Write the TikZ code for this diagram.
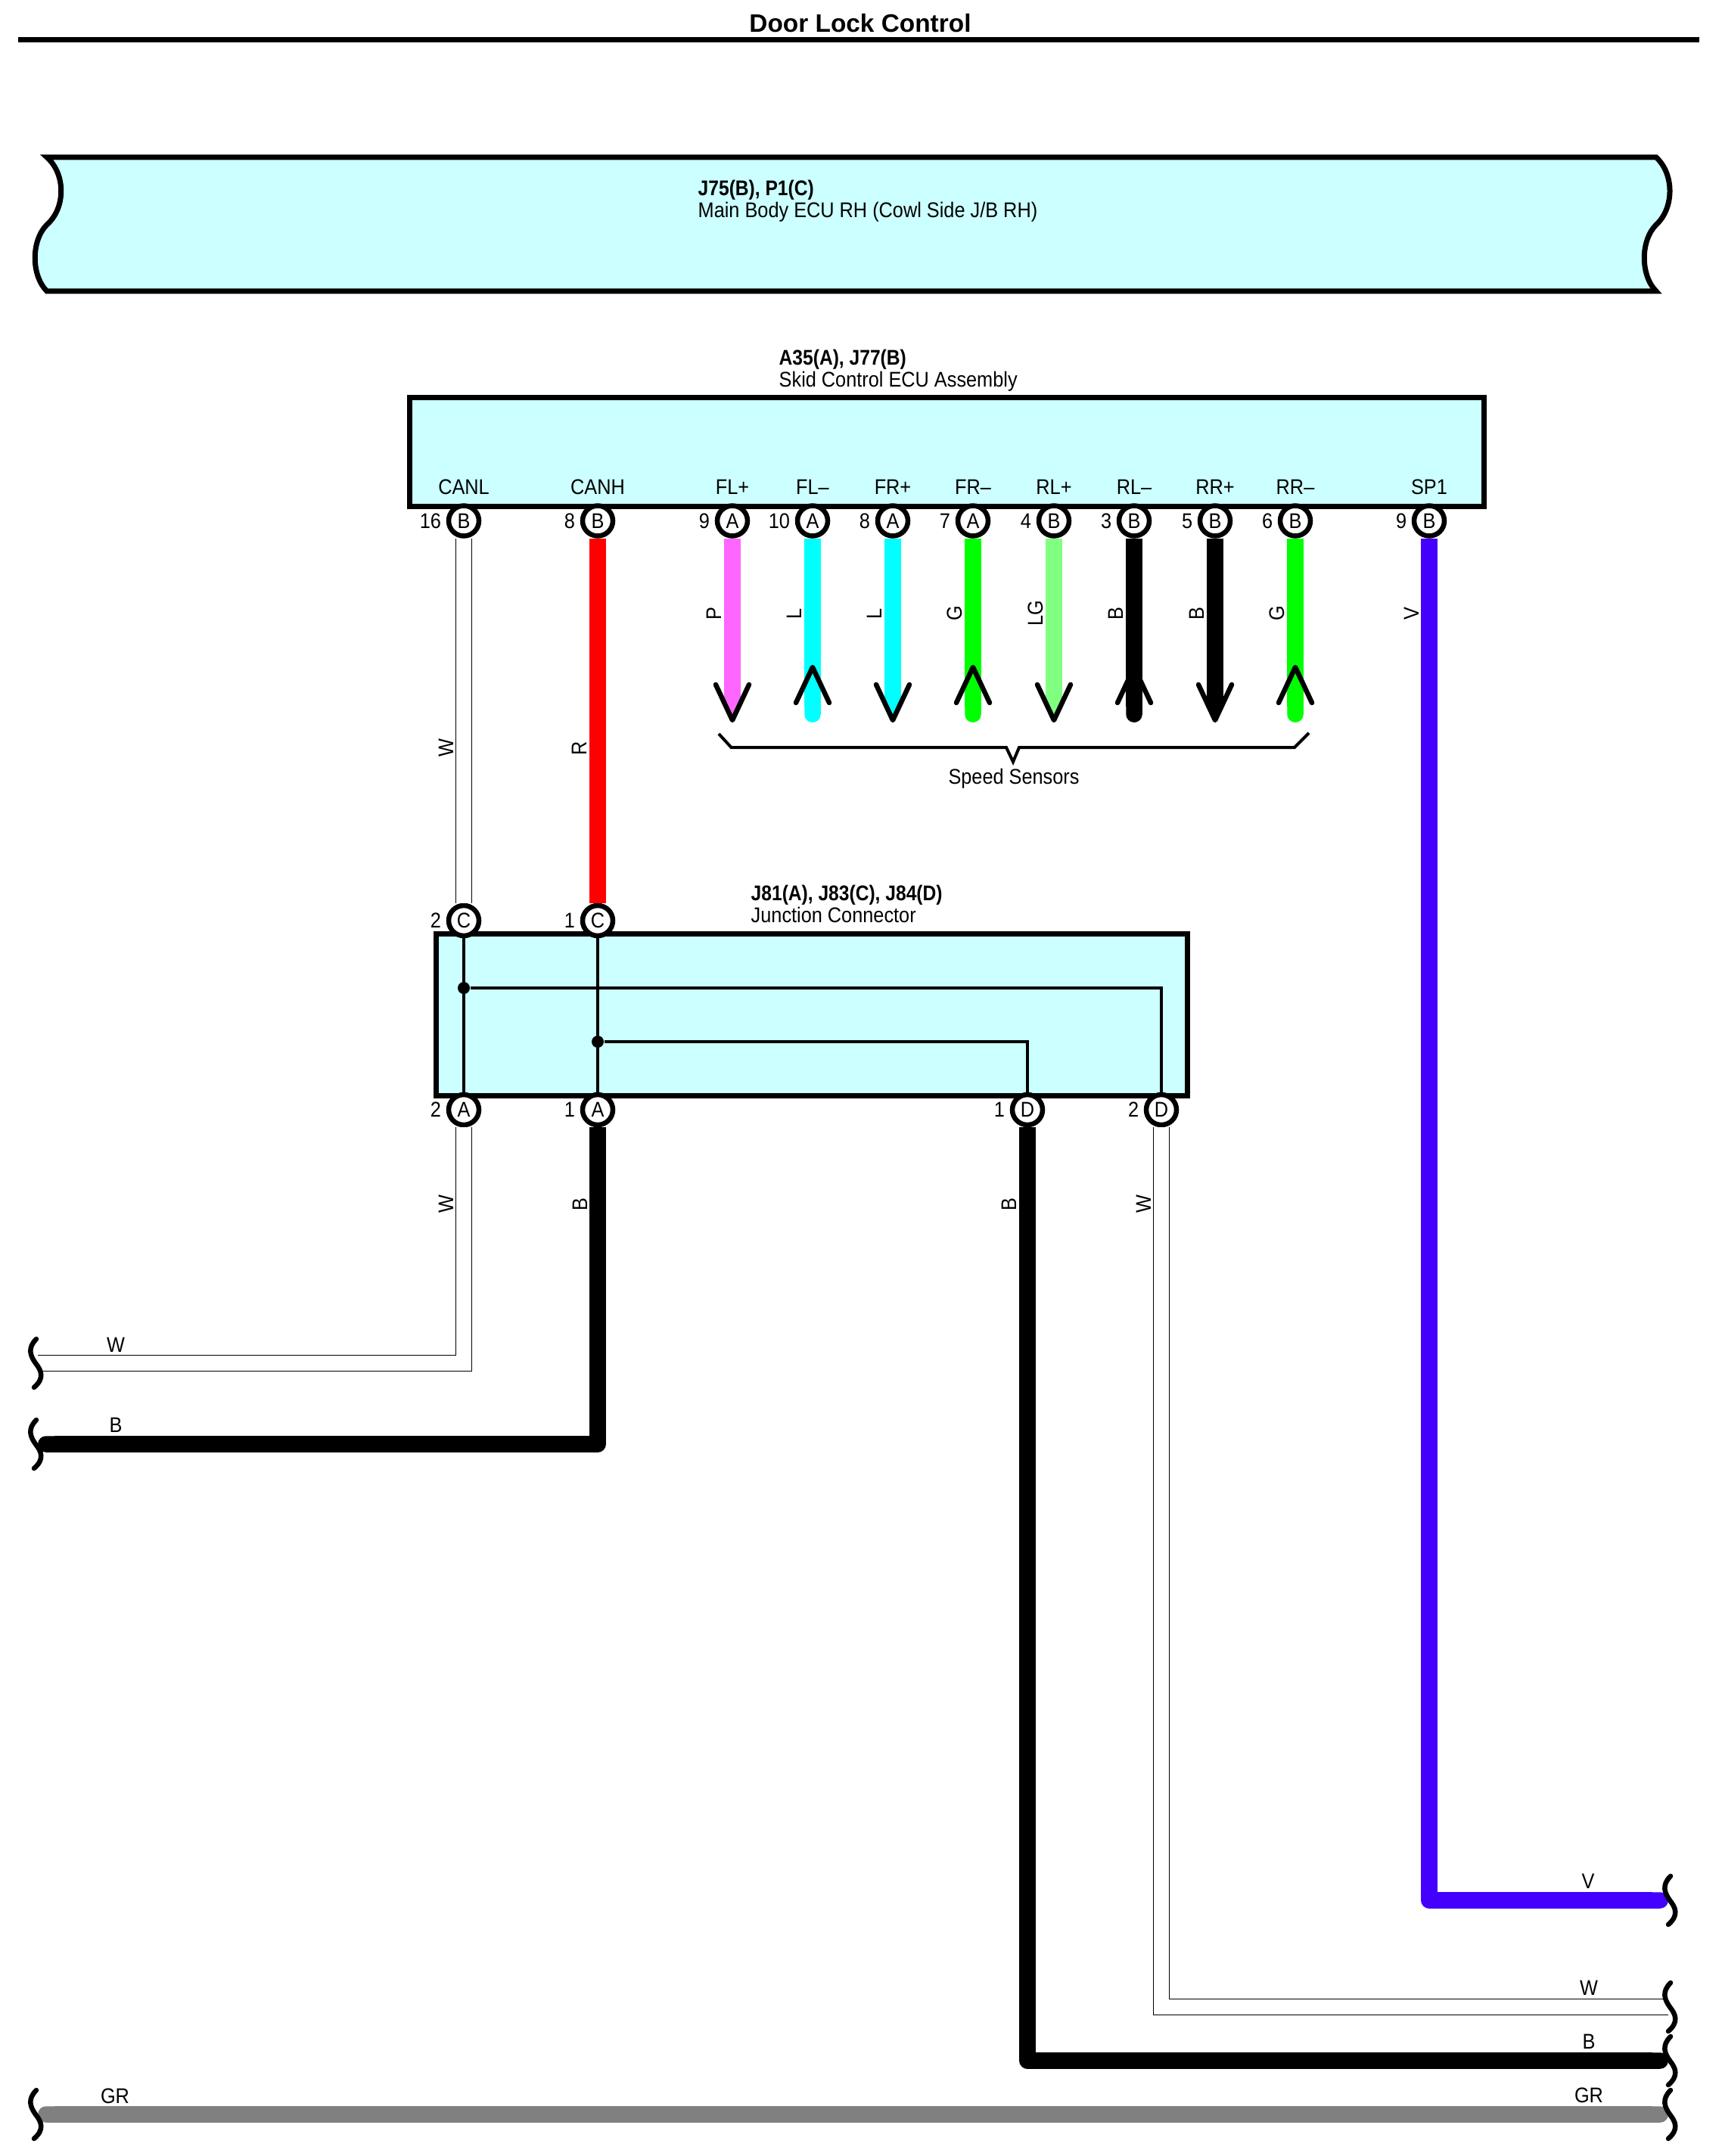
\documentclass[tikz,border=0pt]{standalone}
\usepackage{fontspec}
\setmainfont[FakeStretch=0.90]{Liberation Sans}
\newfontfamily\titlefont{Liberation Sans}
\newfontfamily\codefont[FakeStretch=0.875]{Liberation Sans}
\usetikzlibrary{positioning,arrows.meta}
\definecolor{unitfill}{HTML}{CCFFFF}
\definecolor{wireP}{HTML}{FF66FF}
\definecolor{wireL}{HTML}{00FFFF}
\definecolor{wireG}{HTML}{00FF00}
\definecolor{wireLG}{HTML}{80FF80}
\definecolor{wireV}{HTML}{4400FF}
\definecolor{wireGR}{HTML}{808080}
\definecolor{wireR}{HTML}{FF0000}
\tikzset{
    smalltext/.style={font=\fontsize{8}{9}\selectfont,inner sep=0pt},
    unitbox/.style={draw,fill=unitfill,line width=0.07cm,inner sep=0pt},
    pinmark/.style={smalltext,circle,draw,fill=white,line width=0.065cm,minimum size=0.40cm},
    pinnum/.style={smalltext},
    headcode/.style={smalltext,anchor=base west,font=\codefont\fontsize{8}{9}\selectfont\bfseries},
    headname/.style={smalltext,anchor=base west},
    funclab/.style={smalltext,anchor=base},
    vertlab/.style={smalltext,anchor=base,rotate=90},
    horilab/.style={smalltext,anchor=base},
    wire/.style={line width=0.215cm,line join=round},
    whitewire/.style={line width=0.015cm,double=white,double distance=0.195cm},
    innerline/.style={line width=0.04cm},
    innerdot/.style={circle,fill=black,inner sep=0pt,minimum size=0.16cm},
    headtip/.style={line width=0.065cm,line cap=round,line join=round},
    breakline/.style={line width=0.065cm,line cap=round}
}
\begin{document}
\begin{tikzpicture}[y=-1cm]
    \useasboundingbox (0,0) rectangle (22.75,28.50);
    \node[font=\titlefont\fontsize{9.5}{11}\selectfont\bfseries,inner sep=0pt] (title) at (11.37,0.31) {Door Lock Control};
    \coordinate (ruleL) at (0.24,0.53);
    \coordinate (ruleR) at (22.46,0.53);
    \draw[line width=0.07cm] (ruleL) -- (ruleR);

    \draw[fill=unitfill,line width=0.07cm] (0.62,2.08) -- (21.89,2.08)
        .. controls (22.13,2.30) and (22.13,2.75) .. (21.89,2.97)
        .. controls (21.68,3.18) and (21.68,3.64) .. (21.89,3.85)
        -- (0.62,3.85)
        .. controls (0.41,3.64) and (0.41,3.18) .. (0.62,2.97)
        .. controls (0.87,2.75) and (0.87,2.30) .. (0.62,2.08) -- cycle;
    \node[headcode] (bodycode) at (9.22,2.59) {J75(B), P1(C)};
    \node[headname] (bodyname) at (9.22,2.88) {Main Body ECU RH (Cowl Side J/B RH)};

    \node[headcode] (skidcode) at (10.29,4.825) {A35(A), J77(B)};
    \node[headname] (skidname) at (10.29,5.115) {Skid Control ECU Assembly};
    \node[unitbox,minimum width=14.20cm,minimum height=1.44cm] (skid) at (12.51,5.98) {};

    \node[headcode] (junccode) at (9.92,11.905) {J81(A), J83(C), J84(D)};
    \node[headname] (juncname) at (9.92,12.19) {Junction Connector};
    \node[unitbox,minimum width=9.93cm,minimum height=2.14cm] (junc) at (10.73,13.41) {};

    \foreach \pname/\px/\py/\pnum/\pconn in {
        canl/6.13/6.885/16/B,canh/7.90/6.885/8/B,flp/9.68/6.885/9/A,flm/10.74/6.885/10/A,
        frp/11.80/6.885/8/A,frm/12.86/6.885/7/A,rlp/13.93/6.885/4/B,rlm/14.99/6.885/3/B,
        rrp/16.06/6.885/5/B,rrm/17.12/6.885/6/B,spa/18.89/6.885/9/B,
        jcl/6.13/12.17/2/C,jch/7.90/12.17/1/C,
        jal/6.13/14.67/2/A,jah/7.90/14.67/1/A,jdh/13.58/14.67/1/D,jdl/15.35/14.67/2/D} {
        \node[pinmark] (\pname) at (\px,\py) {\pconn};
        \node[pinnum,left=0.06cm of \pname] (num\pname) {\pnum};
    }

    \foreach \pname/\px/\pfunc in {
        canl/6.13/CANL,canh/7.90/CANH,flp/9.68/FL+,flm/10.74/FL–,frp/11.80/FR+,frm/12.86/FR–,
        rlp/13.93/RL+,rlm/14.99/RL–,rrp/16.06/RR+,rrm/17.12/RR–,spa/18.89/SP1} {
        \node[funclab] (func\pname) at (\px,6.535) {\pfunc};
    }

    \foreach \pname/\px/\wcol in {flp/9.68/wireP,frp/11.80/wireL,rlp/13.93/wireLG,rrp/16.06/black} {
        \coordinate (end\pname) at (\px,9.30);
        \draw[wire,draw=\wcol] (\pname) -- (end\pname);
        \fill[\wcol] (\px-0.105,9.30) -- (\px+0.105,9.30) -- (\px,9.52) -- cycle;
        \draw[headtip] (\px-0.22,9.05) -- (\px,9.52) -- (\px+0.22,9.05);
    }
    \foreach \pname/\px/\wcol in {flm/10.74/wireL,frm/12.86/wireG,rlm/14.99/black,rrm/17.12/wireG} {
        \coordinate (end\pname) at (\px,9.55);
        \draw[wire,draw=\wcol,-{Round Cap}] (\pname) -- (end\pname);
        \draw[headtip] (\px-0.22,9.29) -- (\px,8.82) -- (\px+0.22,9.29);
    }

    \foreach \wname/\wx/\wy/\wtext in {
        flp/9.53/8.11/P,flm/10.59/8.11/L,frp/11.65/8.11/L,frm/12.71/8.11/G,rlp/13.78/8.11/LG,
        rlm/14.84/8.11/B,rrp/15.91/8.11/B,rrm/16.97/8.11/G,spa/18.75/8.11/V,
        canl/5.99/9.89/W,canh/7.75/9.89/R,
        jal/5.99/15.92/W,jah/7.76/15.92/B,jdh/13.43/15.92/B,jdl/15.21/15.92/W} {
        \node[vertlab] (lab\wname) at (\wx,\wy) {\wtext};
    }

    \draw[line width=0.04cm] (9.67,9.88) ++(-0.17,-0.18) -- (9.665,9.88) -- (13.30,9.88)
        -- (13.39,10.07) -- (13.47,9.88) -- (17.11,9.88) -- ++(0.19,-0.19);
    \node[smalltext] (speed) at (13.40,10.29) {Speed Sensors};

    \draw[whitewire] (canl) -- (jcl);
    \draw[wire,draw=wireR] (canh) -- (jch);

    \node[innerdot] (dotl) at (6.13,13.06) {};
    \node[innerdot] (doth) at (7.90,13.77) {};
    \draw[innerline] (jcl) -- (jal);
    \draw[innerline] (jch) -- (jah);
    \draw[innerline] (dotl) -| (jdl);
    \draw[innerline] (doth) -| (jdh);

    \coordinate (endWL) at (0.50,18.02);
    \coordinate (endBL) at (0.50,19.09);
    \coordinate (endV) at (22.05,25.12);
    \coordinate (endWR) at (22.05,26.53);
    \coordinate (endBR) at (22.05,27.24);
    \coordinate (endGL) at (0.50,27.95);
    \coordinate (endGR) at (22.05,27.95);
    \draw[whitewire] (jal) |- (endWL);
    \draw[wire,-{Round Cap}] (jah) |- (endBL);
    \draw[wire,draw=wireV,-{Round Cap}] (spa) |- (endV);
    \draw[whitewire] (jdl) |- (endWR);
    \draw[wire,-{Round Cap}] (jdh) |- (endBR);
    \draw[wire,draw=wireGR,{Round Cap}-{Round Cap}] (endGL) -- (endGR);

    \foreach \wname/\wx/\wy/\wtext in {
        wl/1.53/17.87/W,bl/1.53/18.93/B,gl/1.52/27.80/GR,
        vr/20.99/24.96/V,wr/21.00/26.37/W,br/21.00/27.08/B,gr/21.00/27.79/GR} {
        \node[horilab] (lab\wname) at (\wx,\wy) {\wtext};
    }

    \foreach \bx/\by in {0.47/18.02,0.47/19.09,0.47/27.95,22.07/25.12,22.07/26.53,22.07/27.24,22.07/27.95} {
        \begin{scope}[shift={(\bx,\by)}]
            \draw[breakline] (0.01,-0.32) .. controls (-0.11,-0.20) and (-0.07,-0.10) .. (0,0)
                .. controls (0.08,0.10) and (0.12,0.20) .. (-0.02,0.32);
        \end{scope}
    }
\end{tikzpicture}
\end{document}
